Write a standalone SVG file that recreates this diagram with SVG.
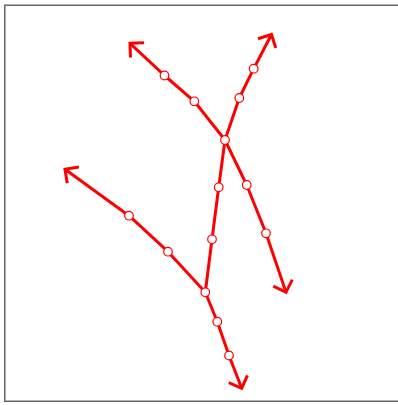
<svg xmlns="http://www.w3.org/2000/svg" width="398" height="405" viewBox="0 0 398 405">
<style>
.frame{fill:#fff;stroke:#666;stroke-width:1.5}
.edge{fill:none;stroke:#ff0000;stroke-width:3;stroke-linejoin:round}
.node{fill:#fff;stroke:#ff0000;stroke-width:1.2}
</style>
<defs>
<marker id="arr" markerUnits="userSpaceOnUse" viewBox="-14 -14 28 28" markerWidth="28" markerHeight="28" refX="0" refY="0" orient="auto" overflow="visible">
<path d="M-10,-10 L0,0 L-10,10" fill="none" stroke="#ff0000" stroke-width="3" stroke-linejoin="miter"/>
</marker>
</defs>
<rect class="frame" x="4.75" y="5.25" width="394" height="396"/>
<g id="connectors">
<polyline class="edge" points="225,140 194.3,101.3 164.5,75.5 130,43.3" marker-end="url(#arr)"/>
<polyline class="edge" points="225,140 239.3,98 253.7,68.7 271.5,34.5" marker-end="url(#arr)"/>
<polyline class="edge" points="225,140 246.7,185 266,233.3 286,292.3" marker-end="url(#arr)"/>
<polyline class="edge" points="225,140 218.7,187.3 212,239.3 205.3,292.3"/>
<polyline class="edge" points="205.3,292.3 168,251.7 129,215.7 65,169.3" marker-end="url(#arr)"/>
<polyline class="edge" points="205.3,292.3 217.3,321.7 229,355.5 241.7,388.3" marker-end="url(#arr)"/>
</g>
<g id="nA"><circle class="node" cx="225" cy="140" r="4.3"/></g>
<g id="nU1"><circle class="node" cx="194.3" cy="101.3" r="4.3"/></g>
<g id="nU2"><circle class="node" cx="164.5" cy="75.5" r="4.3"/></g>
<g id="nR1"><circle class="node" cx="239.3" cy="98" r="4.3"/></g>
<g id="nR2"><circle class="node" cx="253.7" cy="68.7" r="4.3"/></g>
<g id="nD1"><circle class="node" cx="246.7" cy="185" r="4.3"/></g>
<g id="nD2"><circle class="node" cx="266" cy="233.3" r="4.3"/></g>
<g id="nC1"><circle class="node" cx="218.7" cy="187.3" r="4.3"/></g>
<g id="nC2"><circle class="node" cx="212" cy="239.3" r="4.3"/></g>
<g id="nB"><circle class="node" cx="205.3" cy="292.3" r="4.3"/></g>
<g id="nL1"><circle class="node" cx="168" cy="251.7" r="4.3"/></g>
<g id="nL2"><circle class="node" cx="129" cy="215.7" r="4.3"/></g>
<g id="nE1"><circle class="node" cx="217.3" cy="321.7" r="4.3"/></g>
<g id="nE2"><circle class="node" cx="229" cy="355.5" r="4.3"/></g>
</svg>
